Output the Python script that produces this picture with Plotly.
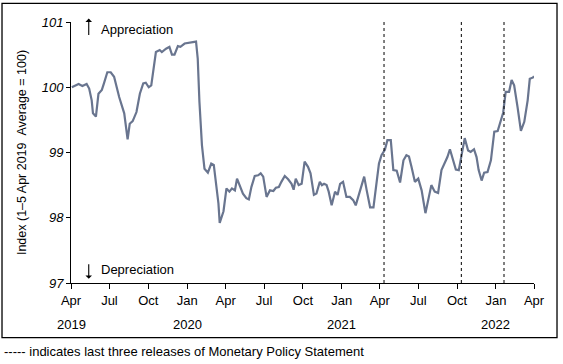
import plotly.graph_objects as go

# Weekly index, 1-5 Apr 2019 average = 100
dates = [
    "2019-04-03", "2019-04-19", "2019-04-28", "2019-05-08", "2019-05-14", "2019-05-20",
    "2019-05-23", "2019-05-30", "2019-06-05", "2019-06-13", "2019-06-18", "2019-06-26",
    "2019-07-04", "2019-07-12", "2019-07-24", "2019-08-05", "2019-08-13", "2019-08-18",
    "2019-08-25", "2019-09-03", "2019-09-11", "2019-09-19", "2019-09-25", "2019-10-02",
    "2019-10-08", "2019-10-14", "2019-10-19", "2019-10-28", "2019-11-02", "2019-11-12",
    "2019-11-20", "2019-11-26", "2019-12-02", "2019-12-10", "2019-12-16", "2019-12-26",
    "2020-01-02", "2020-01-10", "2020-01-22", "2020-01-26", "2020-01-30", "2020-02-05",
    "2020-02-11", "2020-02-19", "2020-02-27", "2020-03-04", "2020-03-09", "2020-03-15",
    "2020-03-18", "2020-03-27", "2020-04-03", "2020-04-10", "2020-04-16", "2020-04-23",
    "2020-04-28", "2020-05-05", "2020-05-12", "2020-05-20", "2020-05-26", "2020-06-01",
    "2020-06-09", "2020-06-17", "2020-06-23", "2020-06-29", "2020-07-07", "2020-07-15",
    "2020-07-23", "2020-07-29", "2020-08-05", "2020-08-11", "2020-08-19", "2020-08-27",
    "2020-09-04", "2020-09-09", "2020-09-14", "2020-09-21", "2020-09-28", "2020-10-05",
    "2020-10-13", "2020-10-19", "2020-10-27", "2020-11-02", "2020-11-10", "2020-11-15",
    "2020-11-20", "2020-11-26", "2020-12-01", "2020-12-08", "2020-12-16", "2020-12-22",
    "2020-12-28", "2021-01-04", "2021-01-12", "2021-01-20", "2021-01-28", "2021-02-03",
    "2021-02-10", "2021-02-17", "2021-02-23", "2021-03-01", "2021-03-09", "2021-03-17",
    "2021-03-25", "2021-03-30", "2021-04-05", "2021-04-13", "2021-04-19", "2021-04-27",
    "2021-05-03", "2021-05-11", "2021-05-19", "2021-05-27", "2021-06-03", "2021-06-09",
    "2021-06-15", "2021-06-23", "2021-07-01", "2021-07-09", "2021-07-18", "2021-07-26",
    "2021-08-01", "2021-08-09", "2021-08-17", "2021-08-25", "2021-09-02", "2021-09-08",
    "2021-09-14", "2021-09-22", "2021-09-28", "2021-10-05", "2021-10-12", "2021-10-19",
    "2021-10-27", "2021-11-02", "2021-11-10", "2021-11-16", "2021-11-21", "2021-11-28",
    "2021-12-04", "2021-12-12", "2021-12-20", "2021-12-28", "2022-01-05", "2022-01-10",
    "2022-01-18", "2022-01-24", "2022-02-01", "2022-02-07", "2022-02-13", "2022-02-21",
    "2022-03-01", "2022-03-09", "2022-03-17", "2022-03-22", "2022-03-30", "2022-04-01",
]
index_values = [
    100.00, 100.05, 100.02, 100.05, 99.98, 99.80,
    99.60, 99.55, 99.90, 99.96, 100.06, 100.23,
    100.23, 100.16, 99.85, 99.60, 99.20, 99.44,
    99.48, 99.62, 99.90, 100.06, 100.07, 100.00,
    100.03, 100.31, 100.54, 100.57, 100.54, 100.59,
    100.62, 100.50, 100.50, 100.63, 100.62, 100.67,
    100.68, 100.68, 100.70, 100.44, 99.78, 99.11,
    98.75, 98.69, 98.83, 98.81, 98.55, 98.22,
    97.92, 98.10, 98.45, 98.40, 98.45, 98.42,
    98.60, 98.47, 98.37, 98.30, 98.28, 98.47,
    98.64, 98.65, 98.68, 98.63, 98.32, 98.42,
    98.41, 98.46, 98.47, 98.55, 98.64, 98.59,
    98.52, 98.43, 98.60, 98.50, 98.52, 98.86,
    98.78, 98.68, 98.35, 98.37, 98.55, 98.50,
    98.52, 98.50, 98.40, 98.19, 98.40, 98.35,
    98.52, 98.55, 98.32, 98.32, 98.27, 98.19,
    98.35, 98.50, 98.63, 98.42, 98.16, 98.16,
    98.58, 98.83, 98.96, 99.04, 99.19, 99.19,
    98.73, 98.72, 98.54, 98.88, 98.96, 98.94,
    98.78, 98.55, 98.60, 98.42, 98.07, 98.32,
    98.50, 98.40, 98.38, 98.73, 98.83, 98.93,
    99.05, 98.88, 98.74, 98.73, 98.98, 99.22,
    99.03, 99.01, 99.05, 98.93, 98.73, 98.57,
    98.69, 98.70, 98.88, 99.32, 99.33, 99.44,
    99.61, 99.93, 99.93, 100.11, 100.03, 99.70,
    99.33, 99.47, 99.80, 100.13, 100.15, 100.17,
]

# Releases of Monetary Policy Statement
mps_dates = ["2021-04-11", "2021-10-11", "2022-01-20"]

tick_dates = [
    "2019-04-01", "2019-07-01", "2019-10-01", "2020-01-01", "2020-04-01", "2020-07-01",
    "2020-10-01", "2021-01-01", "2021-04-01", "2021-07-01", "2021-10-01", "2022-01-01",
    "2022-04-01",
]
tick_labels = ["Apr", "Jul", "Oct", "Jan", "Apr", "Jul", "Oct", "Jan", "Apr", "Jul", "Oct", "Jan", "Apr"]

year_dates = ["2019-04-01", "2020-01-01", "2021-01-01", "2022-01-01"]
year_labels = ["2019", "2020", "2021", "2022"]

y_ticks = [97, 98, 99, 100, 101]

FONT = "Liberation Sans, Arial, sans-serif"
FS = 13

fig = go.Figure()
fig.add_trace(go.Scatter(
    x=dates, y=index_values, mode="lines",
    line=dict(color="#69758f", width=2.2),
    showlegend=False, hoverinfo="skip",
))

for d in mps_dates:
    fig.add_shape(type="line", xref="x", yref="y", x0=d, x1=d, y0=97, y1=101,
                  line=dict(color="black", width=1, dash="3px,3px"))

for d, lab in zip(year_dates, year_labels):
    fig.add_annotation(x=d, y=-0.159, xref="x", yref="paper", text=lab,
                       showarrow=False, font=dict(family=FONT, size=FS, color="black"),
                       xanchor="center", yanchor="middle")

# direction arrows and labels
fig.add_annotation(x="2019-05-13", y=1.013, xref="x", yref="paper", text="",
                   showarrow=True, ax=0, ay=18, arrowhead=1, arrowsize=1,
                   arrowwidth=1.1, arrowcolor="black", standoff=0, startstandoff=0)
fig.add_annotation(x="2019-05-13", y=0.0164, xref="x", yref="paper", text="",
                   showarrow=True, ax=0, ay=-16, arrowhead=1, arrowsize=1,
                   arrowwidth=1.1, arrowcolor="black", standoff=0, startstandoff=0)
fig.add_annotation(x="2019-06-06", y=100.88, xref="x", yref="y",
                   text="Appreciation", showarrow=False,
                   font=dict(family=FONT, size=FS, color="black"),
                   xanchor="left", yanchor="middle")
fig.add_annotation(x="2019-06-06", y=97.2, xref="x", yref="y",
                   text="Depreciation", showarrow=False,
                   font=dict(family=FONT, size=FS, color="black"),
                   xanchor="left", yanchor="middle")

fig.add_annotation(x=-0.149, y=-0.263, xref="paper", yref="paper",
                   text="----- indicates last three releases of Monetary Policy Statement",
                   showarrow=False, font=dict(family=FONT, size=FS, color="black"),
                   xanchor="left", yanchor="middle")

# outer frame
fig.add_shape(type="rect", xref="paper", yref="paper",
              x0=-0.149, x1=1.0497, y0=-0.209, y1=1.0715,
              line=dict(color="black", width=1.3), fillcolor="rgba(0,0,0,0)", layer="below")

fig.update_layout(
    width=563, height=364,
    margin=dict(l=71, r=29, t=22, b=81),
    paper_bgcolor="white", plot_bgcolor="white",
    font=dict(family=FONT, size=FS, color="black"),
    xaxis=dict(
        type="date", range=["2019-04-01", "2022-04-01"],
        tickmode="array", tickvals=tick_dates, ticktext=tick_labels,
        ticks="outside", ticklen=5, tickcolor="black", tickwidth=1,
        showline=True, linecolor="black", linewidth=1,
        showgrid=False, zeroline=False,
        tickfont=dict(family=FONT, size=FS, color="black"),
    ),
    yaxis=dict(
        range=[97, 101], tickmode="array", tickvals=y_ticks,
        ticks="outside", ticklen=4, tickcolor="black", tickwidth=1,
        showline=True, linecolor="black", linewidth=1,
        showgrid=False, zeroline=False,
        tickfont=dict(family=FONT, size=FS, color="black", style="italic"),
        title=dict(text="Index (1\u20135 Apr 2019 \u00a0Average = 100)",
                   font=dict(family=FONT, size=12.5, color="black"), standoff=12),
    ),
)

fig.write_html("out.html", config={"displayModeBar": False},
               post_script="document.body.style.margin='0';")
